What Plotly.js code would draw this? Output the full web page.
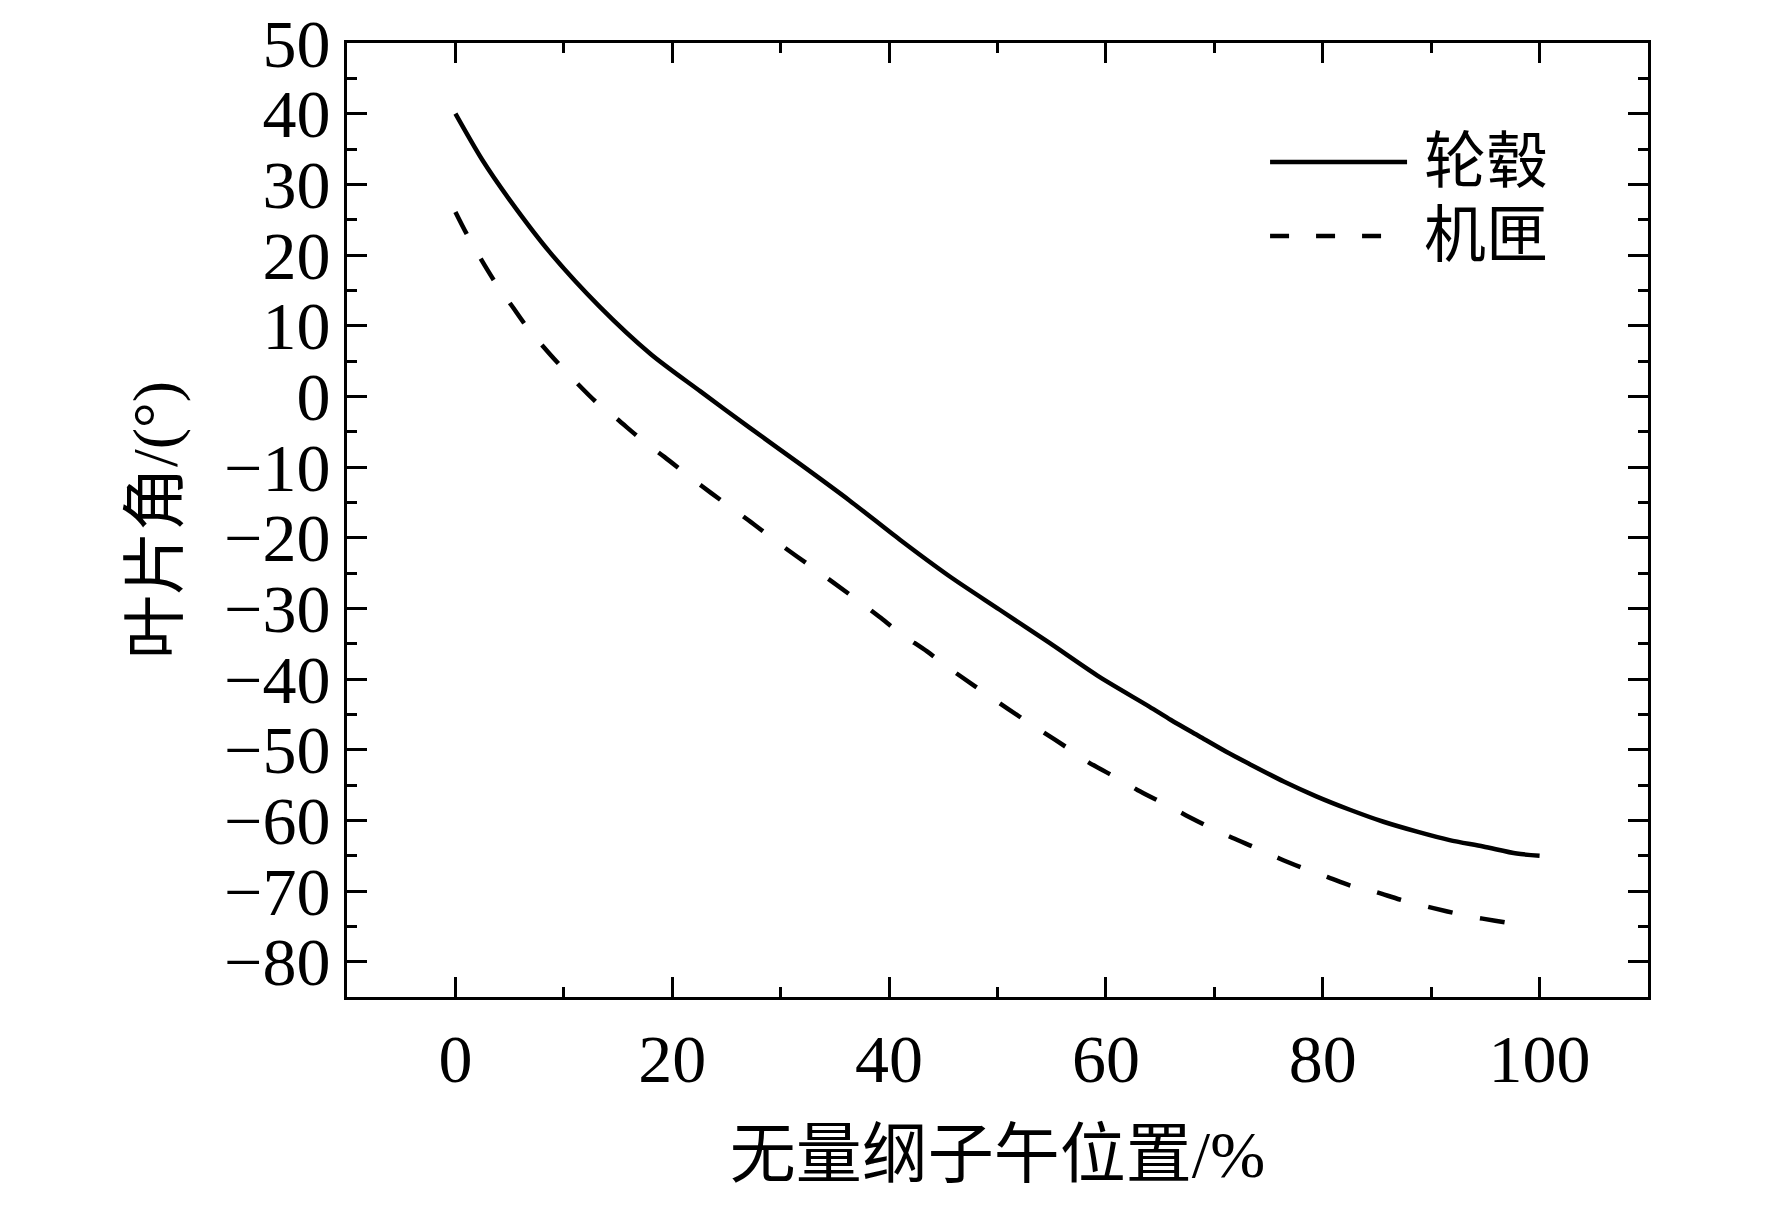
<!DOCTYPE html>
<html>
<head>
<meta charset="utf-8">
<script src="https://cdn.plot.ly/plotly-3.0.1.min.js"></script>
<style>
  body { margin: 0; background: #ffffff; }
  #chart { width: 1772px; height: 1205px; }
</style>
</head>
<body>
<div id="chart"></div>
<script>
// blade angle along the span, hub and shroud
const hubX = [0, 2.5, 5, 8.7, 13.3, 18, 22.6, 27.1, 31.8, 36.4, 41, 45.6, 50.2, 54.8, 59.4, 64, 66, 68.6, 71.1, 73.2, 76.4, 79.4, 82.5, 85.6, 88.7, 91.7, 94.8, 97.9, 100];
const hubY = [40, 33.4, 27.8, 20.4, 12.7, 6.0, 0.7, -4.4, -9.6, -14.8, -20.3, -25.5, -30.2, -34.9, -39.7, -43.9, -45.8, -48.1, -50.3, -52, -54.5, -56.6, -58.5, -60.2, -61.6, -62.8, -63.7, -64.7, -65];

const shroudX = [0, 1, 2.4, 3.6, 5.3, 6.7, 8.7, 10.5, 12.9, 14.9, 17.3, 19.3, 21.7, 23.6, 27, 30, 33, 36.6, 39.1, 41, 43.5, 45.3, 47.9, 49.8, 52.2, 54.1, 56.5, 58.3, 61, 62.9, 65.3, 67.4, 69.7, 71.7, 74, 76, 78.4, 80.4, 82.7, 84.8, 87.1, 89.1, 91.5, 93.6, 95.9, 97.9];
const shroudY = [26.1, 23.1, 19.3, 16.3, 12.6, 9.6, 6.0, 3.0, -0.7, -3.2, -6.3, -8.6, -11.5, -13.7, -17.5, -21, -24.3, -28.3, -31.2, -33.5, -36.1, -38.2, -41, -43, -45.5, -47.4, -49.8, -51.7, -54, -55.7, -57.6, -59.3, -61.1, -62.5, -64, -65.4, -66.9, -68, -69.3, -70.1, -71.2, -72, -72.9, -73.6, -74.2, -74.7];

const seriesNames = ["轮毂", "机匣"];
const xTitle = "无量纲子午位置/%";
const yTitle = "叶片角/(°)";

const fontFamily = "Liberation Serif, 'Noto Sans CJK SC', serif";

const hub = {
  x: hubX,
  y: hubY,
  type: "scatter",
  mode: "lines",
  name: seriesNames[0],
  line: { color: "#000000", width: 4.5, shape: "spline", smoothing: 0.8 },
};

const shroud = {
  x: shroudX,
  y: shroudY,
  type: "scatter",
  mode: "lines",
  name: seriesNames[1],
  line: { color: "#000000", width: 4.5, dash: "25px,28px", shape: "spline", smoothing: 0.8 },
};

const axisBase = {
  showline: true,
  linecolor: "#000000",
  linewidth: 3,
  mirror: "ticks",
  ticks: "inside",
  ticklen: 20,
  tickwidth: 3,
  tickcolor: "#000000",
  showgrid: false,
  zeroline: false,
  tickfont: { family: fontFamily, size: 68, color: "#000000" },
};

const layout = {
  width: 1772,
  height: 1205,
  margin: { l: 347, r: 124, t: 43, b: 208 },
  paper_bgcolor: "#ffffff",
  plot_bgcolor: "#ffffff",
  showlegend: false,
  font: { family: fontFamily, color: "#000000" },
  xaxis: Object.assign({}, axisBase, {
    range: [-10, 110],
    tick0: 0,
    dtick: 20,
    minor: { dtick: 10, ticks: "inside", ticklen: 10, tickwidth: 3, tickcolor: "#000000" },
    title: { text: xTitle, font: { family: fontFamily, size: 66, color: "#000000" }, standoff: 36 },
  }),
  yaxis: Object.assign({}, axisBase, {
    range: [-85, 50],
    tick0: 0,
    dtick: 10,
    minor: { dtick: 5, ticks: "inside", ticklen: 10, tickwidth: 3, tickcolor: "#000000" },
    title: { text: yTitle, font: { family: fontFamily, size: 64, color: "#000000" }, standoff: 26 },
  }),
  // legend drawn by hand so the line samples are as long as in the figure
  shapes: [
    { type: "line", xref: "paper", yref: "paper", x0: 0.7095, x1: 0.8148, y0: 0.8753, y1: 0.8753,
      line: { color: "#000000", width: 4.5 } },
    { type: "line", xref: "paper", yref: "paper", x0: 0.7095, x1: 0.8148, y0: 0.7977, y1: 0.7977,
      line: { color: "#000000", width: 4.5, dash: "19px,27px" } },
  ],
  annotations: [
    { xref: "paper", yref: "paper", x: 0.8263, y: 0.8753, xanchor: "left", yanchor: "middle",
      text: seriesNames[0], showarrow: false, font: { family: fontFamily, size: 62, color: "#000000" } },
    { xref: "paper", yref: "paper", x: 0.8263, y: 0.7977, xanchor: "left", yanchor: "middle",
      text: seriesNames[1], showarrow: false, font: { family: fontFamily, size: 62, color: "#000000" } },
  ],
};

const config = { displayModeBar: false, responsive: false };

Plotly.newPlot("chart", [hub, shroud], layout, config);
</script>
</body>
</html>
